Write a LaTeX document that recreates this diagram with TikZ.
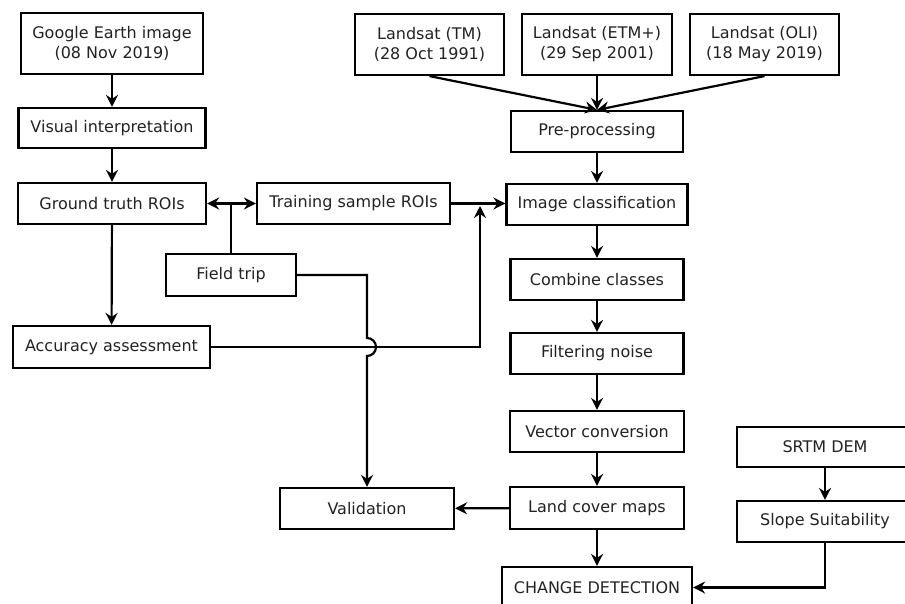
\documentclass[tikz,border=0pt]{standalone}
\usepackage{fontspec}
\setmainfont{DejaVu Sans}
\usetikzlibrary{arrows.meta}
\definecolor{txt}{HTML}{222222}
\begin{document}
\begin{tikzpicture}[x=1pt,y=-1pt,
  box/.style={draw=black, line width=2.2pt, inner sep=0pt, align=center,
    text=txt, font=\fontsize{16}{20}\selectfont},
  conn/.style={line width=2.2pt, draw=black},
  arr/.style={conn, -{Stealth[length=12pt,width=12pt,inset=4pt]}},
  darr/.style={conn, {Stealth[length=12pt,width=12pt,inset=4pt]}-{Stealth[length=12pt,width=12pt,inset=4pt]}}]
\useasboundingbox (0,0) rectangle (905,603);
\clip (0,0) rectangle (905,603);
% left column
\node[box, minimum width=182pt, minimum height=61pt] (ge) at (112,43.5) {Google Earth image\\(08 Nov 2019)};
\node[box, minimum width=187pt, minimum height=40pt] (vi) at (112,128) {Visual interpretation};
\node[box, minimum width=188pt, minimum height=41pt] (gt) at (112,203.5) {Ground truth ROIs};
\node[box, minimum width=193pt, minimum height=41pt] (tr) at (353.5,203.5) {Training sample ROIs};
\node[box, minimum width=130pt, minimum height=42pt] (ft) at (231,275) {Field trip};
\node[box, minimum width=197pt, minimum height=42pt] (aa) at (111.5,347) {Accuracy assessment};
\node[box, minimum width=174pt, minimum height=41pt] (va) at (367,508.5) {Validation};
% top row
\node[box, minimum width=149pt, minimum height=61pt] (tm) at (429.5,44.5) {Landsat (TM)\\(28 Oct 1991)};
\node[box, minimum width=150pt, minimum height=61pt] (etm) at (597,44.5) {Landsat (ETM+)\\(29 Sep 2001)};
\node[box, minimum width=149pt, minimum height=61pt] (oli) at (764.5,44.5) {Landsat (OLI)\\(18 May 2019)};
% right column
\node[box, minimum width=172pt, minimum height=41pt] (pp) at (597,131.5) {Pre-processing};
\node[box, minimum width=181pt, minimum height=41pt] (ic) at (597,204.5) {Image classification};
\node[box, minimum width=173pt, minimum height=41pt] (cc) at (597,279.5) {Combine classes};
\node[box, minimum width=173pt, minimum height=41pt] (fn) at (597,353.5) {Filtering noise};
\node[box, minimum width=174pt, minimum height=41pt] (vc) at (597,431.5) {Vector conversion};
\node[box, minimum width=174pt, minimum height=42pt] (lc) at (597,508) {Land cover maps};
\node[box, minimum width=190pt, minimum height=41pt] (cd) at (597,587.5) {CHANGE DETECTION};
\node[box, minimum width=176pt, minimum height=40pt] (srtm) at (825,447) {SRTM DEM};
\node[box, minimum width=176pt, minimum height=41pt] (ss) at (825,521.5) {Slope Suitability};
% helper coordinates
\coordinate (gtr) at (231,203.5);
\coordinate (ftc) at (367,275);
\coordinate (jt) at (367,338);
\coordinate (jn) at (480,206);
% connectors
\draw[arr] (ge) -- (vi);
\draw[arr] (vi) -- (gt);
\draw[arr] (gt) -- (aa);
\draw[darr] (gt) -- (tr);
\draw[conn] (ft.north) -- (gtr);
\draw[arr] (ft.east) -- (ftc) -- (jt) arc[start angle=-90, end angle=90, radius=9] -- (va.north);
\draw[arr] (aa.east) -| (jn);
\draw[arr] (tr.east) -- (tr.east -| ic.west);
\draw[arr] (tm.south) -- (pp.north);
\draw[arr] (etm) -- (pp);
\draw[arr] (oli.south) -- (pp.north);
\draw[arr] (pp) -- (ic);
\draw[arr] (ic) -- (cc);
\draw[arr] (cc) -- (fn);
\draw[arr] (fn) -- (vc);
\draw[arr] (vc) -- (lc);
\draw[arr] (lc) -- (cd);
\draw[arr] (lc) -- (va);
\draw[arr] (srtm) -- (ss);
\draw[arr] (ss.south) |- (cd.east);
\end{tikzpicture}
\end{document}
